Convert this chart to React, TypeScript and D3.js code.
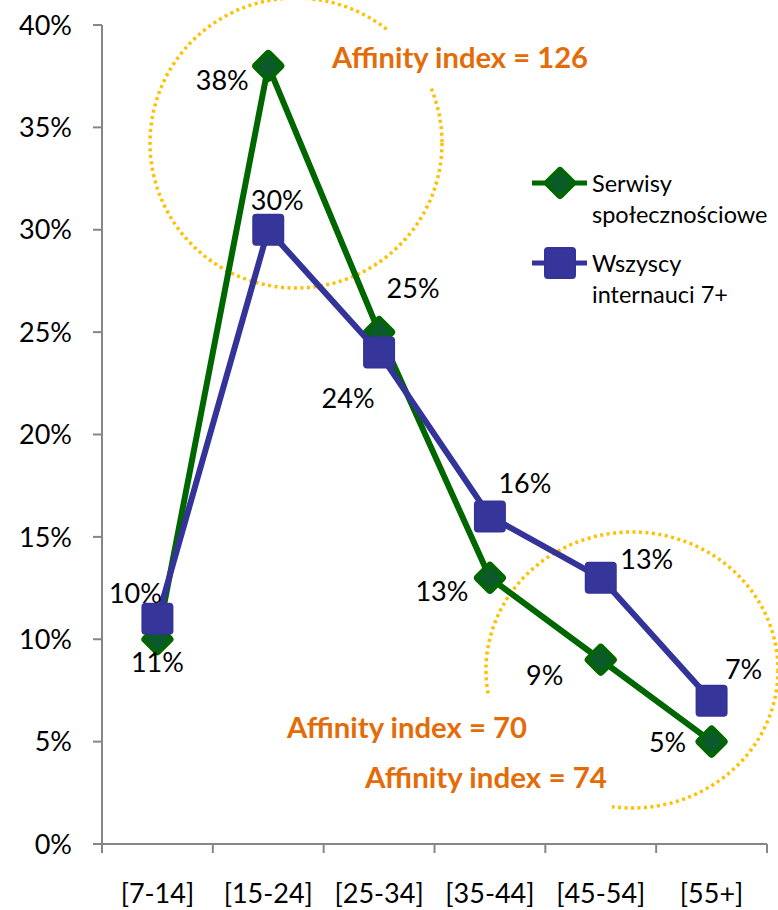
import React from "react";
import * as d3 from "d3";

const categories = ["[7-14]", "[15-24]", "[25-34]", "[35-44]", "[45-54]", "[55+]"];
const socialValues = [10, 38, 25, 13, 9, 5];
const allValues = [11, 30, 24, 16, 13, 7];
const socialLabels = ["11%", "38%", "25%", "13%", "9%", "5%"];
const allLabels = ["10%", "30%", "24%", "16%", "13%", "7%"];
const yTickValues = [0, 5, 10, 15, 20, 25, 30, 35, 40];
const seriesNames = [["Serwisy", "społecznościowe"], ["Wszyscy", "internauci 7+"]];
const affinityTexts = ["Affinity index = 126", "Affinity index = 70", "Affinity index = 74"];

// label offsets (layout only)
const socialLabelOffsets: [number, number][] = [[0, 33], [-46, 24], [34, -34], [-48, 23], [-56, 25], [-44, 10]];
const allLabelOffsets: [number, number][] = [[-22, -16], [9, -20], [-31, 55], [35, -23], [46, -9], [32, -22]];

const W = 778, H = 910;
const FONT = "Lato, 'Open Sans', sans-serif";
const GREEN = "#006600";
const BLUE = "#333399";
const ORANGE = "#E36C09";
const GOLD = "#FFC000";
const AXIS = "#868686";

export default function App() {
  const x = d3.scaleBand<string>().domain(categories).range([102, 767]).padding(0);
  const y = d3.scaleLinear().domain([0, 40]).range([844, 25]);
  const cx = (c: string) => (x(c) as number) + x.bandwidth() / 2;

  const line = d3
    .line<number>()
    .x((_, i) => cx(categories[i]))
    .y((v) => y(v));

  const diamond = (px: number, py: number, key: string | number) => (
    <rect
      key={key}
      x={px - 10.5}
      y={py - 10.5}
      width={21}
      height={21}
      rx={2}
      transform={`rotate(45 ${px} ${py})`}
      fill="#0b5a2a"
      stroke={GREEN}
      strokeWidth={4}
      strokeLinejoin="round"
    />
  );
  const square = (px: number, py: number, key: string | number) => (
    <rect
      key={key}
      x={px - 15}
      y={py - 15}
      width={30}
      height={30}
      rx={3}
      fill="#36369a"
      stroke={BLUE}
      strokeWidth={2}
    />
  );

  const ticksX = [...categories.map((c) => x(c) as number), 767];

  return (
    <svg width={W} height={H} style={{ position: "absolute", left: 0, top: 0, background: "#fff" }} fontFamily={FONT}>
      {/* annotation ellipses */}
      <ellipse cx={296} cy={143} rx={146} ry={145} fill="none" stroke={GOLD} strokeWidth={3.5} strokeDasharray="3 3.5" />
      <ellipse cx={632} cy={670} rx={146} ry={138} fill="none" stroke={GOLD} strokeWidth={3.5} strokeDasharray="3 3.5" />
      <rect x={325} y={30} width={270} height={56} fill="#fff" />
      <rect x={280} y={697} width={332} height={118} fill="#fff" />

      {/* axes */}
      <g stroke={AXIS} strokeWidth={2} fill="none">
        <line x1={102} x2={102} y1={y(40)} y2={y(0)} />
        <line x1={102} x2={767} y1={y(0)} y2={y(0)} />
        {yTickValues.map((t) => (
          <line key={t} x1={93} x2={102} y1={y(t)} y2={y(t)} />
        ))}
        {ticksX.map((t, i) => (
          <line key={i} x1={t} x2={t} y1={y(0)} y2={y(0) + 9} />
        ))}
      </g>
      {yTickValues.map((t) => (
        <text key={t} x={72} y={y(t)} dy="0.36em" textAnchor="end" fontSize={27} fill="#000">
          {t}%
        </text>
      ))}
      {categories.map((c) => (
        <text key={c} x={cx(c)} y={903} textAnchor="middle" fontSize={27} fill="#000">
          {c}
        </text>
      ))}

      {/* series */}
      <path d={line(socialValues) as string} fill="none" stroke={GREEN} strokeWidth={6} strokeLinejoin="round" />
      {socialValues.map((v, i) => diamond(cx(categories[i]), y(v), "d" + i))}
      <path d={line(allValues) as string} fill="none" stroke={BLUE} strokeWidth={6} strokeLinejoin="round" />
      {allValues.map((v, i) => square(cx(categories[i]), y(v), "s" + i))}

      {/* data labels */}
      {socialValues.map((v, i) => (
        <text
          key={"gl" + i}
          x={cx(categories[i]) + socialLabelOffsets[i][0]}
          y={y(v) + socialLabelOffsets[i][1]}
          textAnchor="middle"
          fontSize={27}
          fill="#000"
        >
          {socialLabels[i]}
        </text>
      ))}
      {allValues.map((v, i) => (
        <text
          key={"bl" + i}
          x={cx(categories[i]) + allLabelOffsets[i][0]}
          y={y(v) + allLabelOffsets[i][1]}
          textAnchor="middle"
          fontSize={27}
          fill="#000"
        >
          {allLabels[i]}
        </text>
      ))}

      {/* annotations */}
      <text x={332} y={68} fontSize={28} fontWeight="bold" fill={ORANGE} textLength={256} lengthAdjust="spacingAndGlyphs">{affinityTexts[0]}</text>
      <text x={287} y={738} fontSize={28} fontWeight="bold" fill={ORANGE} textLength={240} lengthAdjust="spacingAndGlyphs">{affinityTexts[1]}</text>
      <text x={365} y={788} fontSize={28} fontWeight="bold" fill={ORANGE} textLength={242} lengthAdjust="spacingAndGlyphs">{affinityTexts[2]}</text>

      {/* legend */}
      <g>
        <line x1={532} x2={587} y1={183} y2={183} stroke={GREEN} strokeWidth={5} />
        {diamond(560, 183, "ld")}
        <text x={592} y={192} fontSize={23.5} fill="#000">{seriesNames[0][0]}</text>
        <text x={592} y={223} fontSize={23.5} fill="#000">{seriesNames[0][1]}</text>
        <line x1={532} x2={587} y1={263} y2={263} stroke={BLUE} strokeWidth={5} />
        {square(560, 263, "ls")}
        <text x={592} y={272} fontSize={23.5} fill="#000">{seriesNames[1][0]}</text>
        <text x={592} y={303} fontSize={23.5} fill="#000">{seriesNames[1][1]}</text>
      </g>
    </svg>
  );
}
